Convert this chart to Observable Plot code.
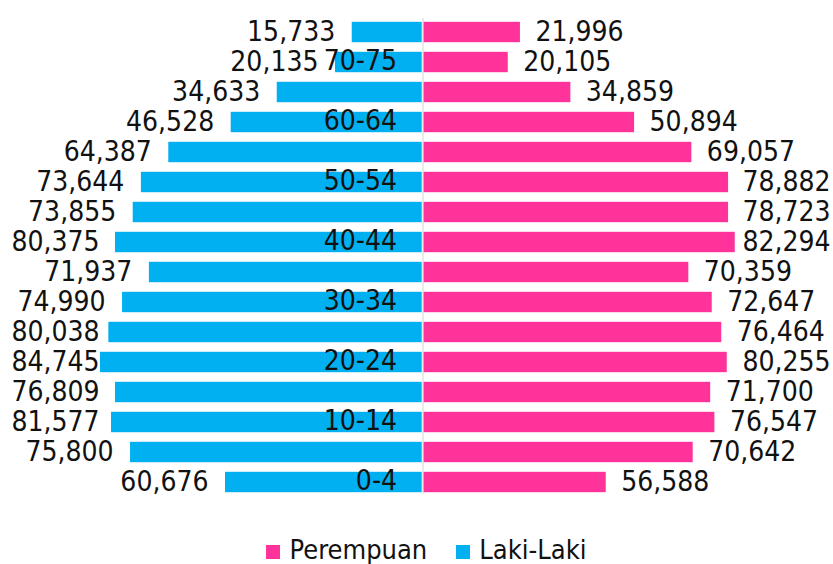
<!DOCTYPE html>
<html>
<head>
<meta charset="utf-8">
<script src="https://cdn.jsdelivr.net/npm/d3@7"></script>
<script src="https://cdn.jsdelivr.net/npm/@observablehq/plot@0.6"></script>
<style>
  html, body { margin: 0; padding: 0; background: #fff; }
  #wrap { position: relative; width: 833px; height: 564px; overflow: hidden;
          font-family: "DejaVu Sans Condensed", "DejaVu Sans", sans-serif; font-stretch: condensed; }
  #legend { position: absolute; left: 0; top: 533px; width: 833px; height: 34px;
            display: flex; justify-content: center; align-items: center;
            font-size: 27px; line-height: 34px; color: #111; padding-left: 19px; box-sizing: border-box; }
  .sw { width: 14px; height: 14px; display: inline-block; margin-top: 4px; }
</style>
</head>
<body>
<div id="wrap"></div>
<script>
// Age groups, top to bottom
const ageGroups = ["75+", "70-75", "65-69", "60-64", "55-59", "50-54", "45-49", "40-44",
                   "35-39", "30-34", "25-29", "20-24", "15-19", "10-14", "5-9", "0-4"];
// Only every other age label is shown in the reference
const shownAgeLabels = ["70-75", "60-64", "50-54", "40-44", "30-34", "20-24", "10-14", "0-4"];

// Printed value labels
const lakiLabels = [15733, 20135, 34633, 46528, 64387, 73644, 73855, 80375,
                    71937, 74990, 80038, 84745, 76809, 81577, 75800, 60676];
const perempuanLabels = [21996, 20105, 34859, 50894, 69057, 78882, 78723, 82294,
                         70359, 72647, 76464, 80255, 71700, 76547, 70642, 56588];

// Bar lengths as drawn in the picture (estimated, same units)
const lakiBars = [18600, 23000, 38300, 50400, 66800, 74000, 76150, 80800,
                  71900, 78950, 82550, 84750, 80800, 81850, 76850, 51900];
const perempuanBars = [25600, 22400, 38850, 55600, 70650, 80300, 80300, 82050,
                       69850, 76000, 78500, 79950, 75600, 76700, 71000, 48150];

const seriesNames = ["Perempuan", "Laki-Laki"];
const colors = ["#ff3399", "#00b0f0"];

const rows = ageGroups.map((age, i) => ({
  age,
  lakiBar: lakiBars[i], perBar: perempuanBars[i],
  lakiText: d3.format(",")(lakiLabels[i]), perText: d3.format(",")(perempuanLabels[i])
}));

const W = 833, H = 530, mL = 80, mR = 68;
const xDomain = [-90000, 90000];
const xs = d3.scaleLinear(xDomain, [mL, W - mR]);
const textW = 87; // approx label width
// labels that would run past the frame edges are pinned to the edges
const leftFits = d => xs(-d.lakiBar) - 18 - textW >= 12;
const rightFits = d => xs(d.perBar) + 16 + textW <= 829;

const fsz = 28;
const ins = 4.8;
const chart = Plot.plot({
  width: W, height: H,
  marginTop: 16, marginBottom: 32.5, marginLeft: mL, marginRight: mR,
  style: { fontFamily: '"DejaVu Sans Condensed", "DejaVu Sans", sans-serif', background: "#fff", overflow: "visible" },
  x: { domain: xDomain, axis: null },
  y: { domain: ageGroups, axis: null, padding: 0 },
  marks: [
    Plot.barX(rows, { x1: d => -d.lakiBar, x2: 0, y: "age", fill: colors[1], insetTop: ins, insetBottom: ins, insetRight: 0.8 }),
    Plot.barX(rows, { x1: 0, x2: "perBar", y: "age", fill: colors[0], insetTop: ins, insetBottom: ins, insetLeft: 0.8 }),
    Plot.ruleX([0], { stroke: "#d4d4d4", strokeWidth: 1, insetTop: 2, insetBottom: 4 }),
    // left value labels
    Plot.text(rows.filter(leftFits), { x: d => -d.lakiBar, y: "age", text: "lakiText", textAnchor: "end", dx: -17, fontSize: fsz, fill: "#111" }),
    Plot.text(rows.filter(d => !leftFits(d)), { y: "age", text: "lakiText", frameAnchor: "left", textAnchor: "start", dx: -69, fontSize: fsz, fill: "#111" }),
    // right value labels
    Plot.text(rows.filter(rightFits), { x: "perBar", y: "age", text: "perText", textAnchor: "start", dx: 15, fontSize: fsz, fill: "#111" }),
    Plot.text(rows.filter(d => !rightFits(d)), { y: "age", text: "perText", frameAnchor: "right", textAnchor: "end", dx: 65, fontSize: fsz, fill: "#111" }),
    // age group labels
    Plot.text(rows.filter(d => shownAgeLabels.includes(d.age)), { x: 0, y: "age", text: "age", textAnchor: "end", dx: -26, dy: -1.5, fontSize: fsz, fill: "#111" })
  ]
});

const wrap = document.getElementById("wrap");
wrap.appendChild(chart);

const legend = document.createElement("div");
legend.id = "legend";
seriesNames.forEach((name, i) => {
  const sw = document.createElement("span");
  sw.className = "sw";
  sw.style.background = colors[i];
  sw.style.marginRight = i === 0 ? "10px" : "9px";
  if (i > 0) sw.style.marginLeft = "29px";
  const t = document.createElement("span");
  t.textContent = name;
  legend.appendChild(sw);
  legend.appendChild(t);
});
wrap.appendChild(legend);
</script>
</body>
</html>
